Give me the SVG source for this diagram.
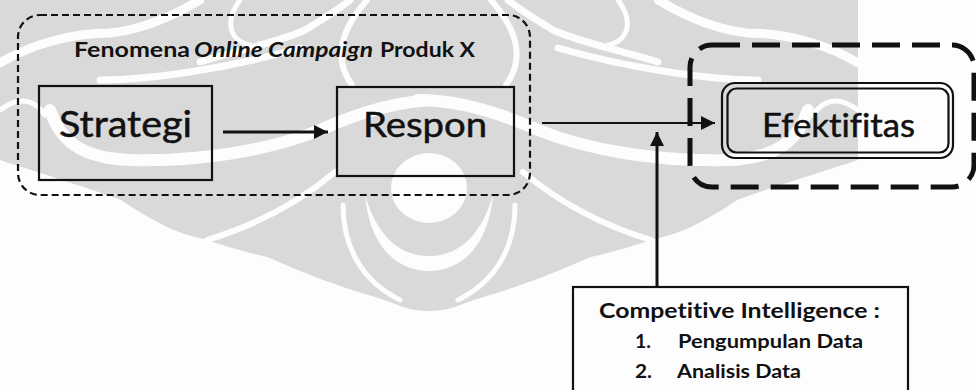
<svg xmlns="http://www.w3.org/2000/svg" width="976" height="390" viewBox="0 0 976 390">
  <style>
    .bg{fill:#fdfdfd}
    .wm{fill:#d9d9d9}
    .ws{fill:none;stroke:#fdfdfd;stroke-linecap:round}
    .wf{fill:#fdfdfd}
    .box{fill:none;stroke:#111;stroke-width:2.2}
    .grp{fill:none;stroke:#111;stroke-width:2.2;stroke-dasharray:7 4}
    .grp2{fill:none;stroke:#111;stroke-width:5;stroke-dasharray:28 12}
    .t{font-family:Lato,"Liberation Sans",sans-serif;fill:#111;font-variant-ligatures:none;font-feature-settings:"liga" 0,"dlig" 0}
    .big{stroke:#111;stroke-width:0.5}
    .b{font-weight:bold}
    .conn{fill:none;stroke:#111}
  </style>
  <defs>
    <marker id="ah" viewBox="0 0 10 10" refX="10" refY="5" markerWidth="15" markerHeight="14" markerUnits="userSpaceOnUse" orient="auto">
      <path d="M0,0 L10,5 L0,10 z" fill="#111"/>
    </marker>
    <g id="wmhalf">
      <path class="wm" d="M0,0 H430 V311 C410,311 400,306 390,302 C370,295 350,290 332,283 C300,272 280,262 267,257 C245,252 225,246 207,240 C190,236 178,232 167,227 C150,218 135,210 121,200 C80,185 30,170 0,160 Z"/>
      <path class="ws" stroke-width="9" d="M0,63 C30,45 70,33 110,33 C140,30 170,18 200,0"/>
      <path class="ws" stroke-width="7" d="M100,80 C150,80 230,68 300,48"/>
      <path class="ws" stroke-width="7" d="M200,62 C240,50 285,40 305,30 C325,18 340,8 350,0"/>
      <path class="ws" stroke-width="6" d="M367,0 C345,25 330,55 352,85"/>
      <path class="ws" stroke-width="5" d="M240,0 C225,20 228,40 250,45"/>
      <path class="ws" stroke-width="12" d="M50,110 C60,140 80,158 130,160 C200,162 270,150 320,130 C360,112 400,100 440,100"/>
      <path class="ws" stroke-width="6" d="M207,240 C240,230 290,210 335,172"/>
      <path class="ws" stroke-width="5" d="M343,205 C343,245 360,280 400,300"/>
      <path class="ws" stroke-width="5" d="M0,110 C20,95 35,100 45,115"/>
    </g>
  </defs>

  <rect class="bg" x="0" y="0" width="976" height="390"/>

  <g id="watermark">
    <use href="#wmhalf"/>
    <use href="#wmhalf" transform="translate(858,0) scale(-1,1)"/>
    <ellipse class="wf" cx="429" cy="188" rx="38" ry="35"/>
    <path class="wf" d="M365,195 C370,250 400,271 429,271 C458,271 488,250 493,195 C480,240 455,256 429,256 C403,256 378,240 365,195 Z"/>
  </g>

  <g id="group-fenomena">
    <rect class="grp" x="18" y="15" width="512" height="180" rx="22"/>
    <text class="t b" x="74" y="57" font-size="20" textLength="116" lengthAdjust="spacingAndGlyphs">Fenomena</text>
    <text class="t b" x="194" y="57" font-size="20" font-style="italic" textLength="179" lengthAdjust="spacingAndGlyphs">Online Campaign</text>
    <text class="t b" x="380" y="57" font-size="20" textLength="95" lengthAdjust="spacingAndGlyphs">Produk X</text>
  </g>

  <g id="node-strategi">
    <rect class="box" x="39" y="86" width="173" height="94"/>
    <text class="t big" x="59" y="137" font-size="37" textLength="133" lengthAdjust="spacingAndGlyphs">Strategi</text>
  </g>

  <g id="node-respon">
    <rect class="box" x="337" y="87" width="177" height="89"/>
    <text class="t big" x="363" y="137" font-size="35" textLength="124" lengthAdjust="spacingAndGlyphs">Respon</text>
  </g>

  <g id="group-efektifitas">
    <rect class="grp2" x="690" y="45" width="284" height="142" rx="22"/>
  </g>

  <g id="node-efektifitas">
    <rect class="box" x="722" y="83" width="231" height="75" rx="13"/>
    <rect class="box" x="727.5" y="88.5" width="221" height="64" rx="9"/>
    <text class="t big" x="762" y="137" font-size="33" textLength="153" lengthAdjust="spacingAndGlyphs">Efektifitas</text>
  </g>

  <g id="node-ci">
    <rect class="box" x="573" y="287" width="335" height="130"/>
    <text class="t b" x="599" y="318" font-size="21" textLength="281" lengthAdjust="spacingAndGlyphs">Competitive Intelligence :</text>
    <text class="t b" x="635" y="348" font-size="18" textLength="16" lengthAdjust="spacingAndGlyphs">1.</text>
    <text class="t b" x="678" y="348" font-size="18" textLength="185" lengthAdjust="spacingAndGlyphs">Pengumpulan Data</text>
    <text class="t b" x="635" y="378" font-size="18" textLength="17" lengthAdjust="spacingAndGlyphs">2.</text>
    <text class="t b" x="677" y="378" font-size="18" textLength="124" lengthAdjust="spacingAndGlyphs">Analisis Data</text>
  </g>

  <g id="connectors">
    <line class="conn" stroke-width="3.2" x1="223" y1="132" x2="328" y2="132" marker-end="url(#ah)"/>
    <line class="conn" stroke-width="2.2" x1="542" y1="123" x2="715" y2="123" marker-end="url(#ah)"/>
    <line class="conn" stroke-width="3" x1="657" y1="287" x2="657" y2="132" marker-end="url(#ah)"/>
  </g>
</svg>
